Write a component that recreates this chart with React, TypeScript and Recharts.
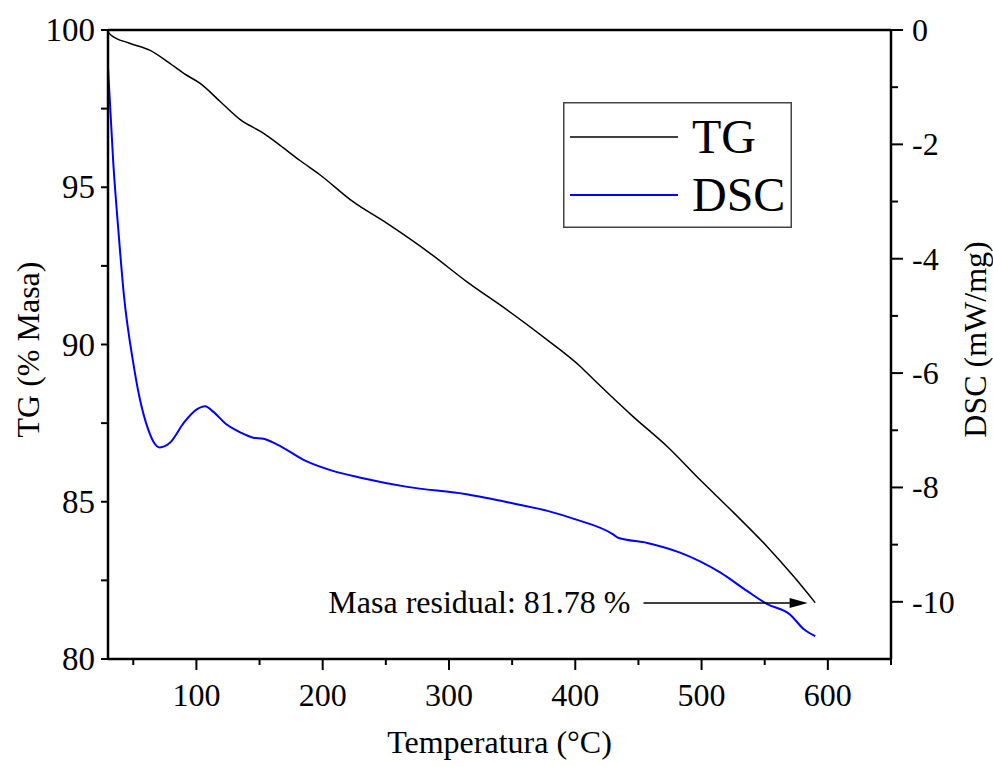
import React from "react";
import {
  LineChart,
  Line,
  XAxis,
  YAxis,
  Legend,
  ReferenceLine,
  Label,
} from "recharts";

// TG curve (temperature in °C, mass in %)
const tgTemp = [30, 32, 47, 63, 79, 90, 103, 119, 135, 153, 166, 182, 198, 224, 251, 285, 314, 346, 378, 404, 415, 446, 473, 499, 526, 552, 573, 590];
const tgMass = [99.95, 99.85, 99.58, 99.36, 98.94, 98.62, 98.3, 97.72, 97.14, 96.72, 96.34, 95.85, 95.39, 94.54, 93.85, 92.9, 92.0, 91.1, 90.14, 89.3, 88.87, 87.7, 86.75, 85.69, 84.63, 83.57, 82.62, 81.79];

// DSC curve (temperature in °C, heat flow in mW/mg)
const dscTemp = [30, 34.2, 38.2, 42.7, 50, 54.8, 61.9, 66, 71, 79, 90, 100, 107, 113, 124, 135, 145, 153, 164, 187, 208, 230, 267, 314, 351, 378, 399, 430, 434, 457, 483, 515, 536, 552, 570, 581, 590];
const dscHeat = [-0.66, -2.33, -3.5, -4.66, -5.82, -6.41, -6.99, -7.2, -7.3, -7.22, -6.87, -6.64, -6.58, -6.67, -6.9, -7.04, -7.13, -7.15, -7.25, -7.54, -7.71, -7.83, -7.99, -8.12, -8.28, -8.41, -8.55, -8.82, -8.88, -8.97, -9.14, -9.49, -9.81, -10.04, -10.22, -10.48, -10.6];

const xTicks = [50, 100, 150, 200, 250, 300, 350, 400, 450, 500, 550, 600, 650];
const tgTicks = [80, 82.5, 85, 87.5, 90, 92.5, 95, 97.5, 100];
const dscTicks = [-10, -9, -8, -7, -6, -5, -4, -3, -2, -1, 0];

const RESIDUAL = 81.78;
const ARROW_FROM = 454;
const ARROW_TO = 584;
const ANNOTATION = "Masa residual: 81.78 %";
const LEGEND_ORDER = ["TG", "DSC"];

const FONT = '"Liberation Serif", "Times New Roman", serif';

const tgData = tgTemp.map((t, i) => ({ t, v: tgMass[i] }));
const dscData = dscTemp.map((t, i) => ({ t, v: dscHeat[i] }));

const XTick = ({ x, y, payload }: any) => {
  const major = payload.value % 100 === 0;
  return (
    <g>
      <line x1={x} x2={x} y1={y} y2={y + (major ? 11 : 6)} stroke="#000" strokeWidth={2} />
      {major && (
        <text x={x} y={y + 47} textAnchor="middle" fontFamily={FONT} fontSize={32} fill="#000">
          {payload.value}
        </text>
      )}
    </g>
  );
};

const TgTick = ({ x, y, payload }: any) => {
  const major = payload.value % 5 === 0;
  return (
    <g>
      <line x1={x} x2={x - 7} y1={y} y2={y} stroke="#000" strokeWidth={2} />
      {major && (
        <text x={x - 13} y={y + 11} textAnchor="end" fontFamily={FONT} fontSize={33} fill="#000">
          {payload.value}
        </text>
      )}
    </g>
  );
};

const DscTick = ({ x, y, payload }: any) => {
  const major = payload.value % 2 === 0;
  return (
    <g>
      <line x1={x} x2={x + (major ? 12 : 7)} y1={y} y2={y} stroke="#000" strokeWidth={2} />
      {major && (
        <text x={x + 21} y={y + 11} textAnchor="start" fontFamily={FONT} fontSize={32} fill="#000">
          {String(payload.value)}
        </text>
      )}
    </g>
  );
};

const titleStyle = { fontFamily: FONT, fontSize: 32, fill: "#000" };

const XTitle = ({ viewBox }: any) => {
  const { x, y, width } = viewBox;
  return (
    <text x={x + width / 2} y={y + 94} textAnchor="middle" {...titleStyle}>
      Temperatura (°C)
    </text>
  );
};

const LeftTitle = ({ viewBox }: any) => {
  const { x, y, height } = viewBox;
  const cx = x + 28;
  const cy = y + height / 2 + 5;
  return (
    <text x={cx} y={cy} transform={`rotate(-90 ${cx} ${cy})`} textAnchor="middle" dominantBaseline="central" {...titleStyle}>
      TG (% Masa)
    </text>
  );
};

const RightTitle = ({ viewBox }: any) => {
  const { x, y, height } = viewBox;
  const cx = x + 84;
  const cy = y + height / 2 - 5;
  return (
    <text x={cx} y={cy} transform={`rotate(-90 ${cx} ${cy})`} textAnchor="middle" dominantBaseline="central" {...titleStyle}>
      DSC (mW/mg)
    </text>
  );
};

const Arrow = (props: any) => {
  const { x1, y1, x2 } = props;
  return (
    <g>
      <line x1={x1} x2={x2 - 14} y1={y1} y2={y1} stroke="#000" strokeWidth={1.5} />
      <polygon points={`${x2 - 18},${y1 - 5} ${x2},${y1} ${x2 - 18},${y1 + 5}`} fill="#000" />
      <text x={x1 - 13} y={y1 + 10} textAnchor="end" fontFamily={FONT} fontSize={32} fill="#000">
        {ANNOTATION}
      </text>
    </g>
  );
};

const LegendBox = ({ payload }: any) => {
  const items = [...(payload || [])].sort(
    (a: any, b: any) => LEGEND_ORDER.indexOf(a.value) - LEGEND_ORDER.indexOf(b.value)
  );
  return (
    <svg width={229} height={126} style={{ display: "block" }}>
      <rect x={0.75} y={0.75} width={227.5} height={124.5} fill="#fff" stroke="#444" strokeWidth={1.5} />
      {items.map((item: any, i: number) => {
        const cy = 35 + i * 58;
        return (
          <g key={item.value}>
            <line x1={7} x2={115} y1={cy} y2={cy} stroke={item.color} strokeWidth={i === 0 ? 1.5 : 2} />
            <text x={129} y={cy + 16} fontFamily={FONT} fontSize={48} fill="#000">
              {item.value}
            </text>
          </g>
        );
      })}
    </svg>
  );
};

export default function App() {
  return (
    <div style={{ width: 993, height: 767, background: "#fff" }}>
      <style>{"body{margin:0}"}</style>
      <LineChart width={993} height={767} margin={{ top: 30, right: 0, bottom: 0, left: 0 }}>
        <XAxis
          type="number"
          dataKey="t"
          domain={[30, 650]}
          ticks={xTicks}
          interval={0}
          allowDataOverflow
          height={108}
          tickSize={0}
          tickMargin={0}
          tick={<XTick />}
          axisLine={{ stroke: "#000", strokeWidth: 2.5 }}
        >
          <Label content={<XTitle />} />
        </XAxis>
        <YAxis
          yAxisId="tg"
          type="number"
          domain={[80, 100]}
          ticks={tgTicks}
          interval={0}
          allowDataOverflow
          width={108}
          tickSize={0}
          tickMargin={0}
          tick={<TgTick />}
          axisLine={{ stroke: "#000", strokeWidth: 2.5 }}
        >
          <Label content={<LeftTitle />} />
        </YAxis>
        <YAxis
          yAxisId="dsc"
          orientation="right"
          type="number"
          domain={[-11, 0]}
          ticks={dscTicks}
          interval={0}
          allowDataOverflow
          width={102}
          tickSize={0}
          tickMargin={0}
          tick={<DscTick />}
          axisLine={{ stroke: "#000", strokeWidth: 2.5 }}
        >
          <Label content={<RightTitle />} />
        </YAxis>
        <ReferenceLine yAxisId="tg" y={100} stroke="#000" strokeWidth={2.5} />
        <Line
          yAxisId="tg"
          data={tgData}
          dataKey="v"
          name="TG"
          type="monotone"
          stroke="#000"
          strokeWidth={1.5}
          dot={false}
          isAnimationActive={false}
        />
        <Line
          yAxisId="dsc"
          data={dscData}
          dataKey="v"
          name="DSC"
          type="monotone"
          stroke="#0000ff"
          strokeWidth={2}
          dot={false}
          isAnimationActive={false}
        />
        <ReferenceLine
          yAxisId="tg"
          segment={[
            { x: ARROW_FROM, y: RESIDUAL },
            { x: ARROW_TO, y: RESIDUAL },
          ]}
          shape={<Arrow />}
        />
        <Legend
          layout="vertical"
          align="center"
          verticalAlign="middle"
          content={<LegendBox />}
          wrapperStyle={{ left: 563, top: 102, width: 229, height: 126 }}
        />
      </LineChart>
    </div>
  );
}
